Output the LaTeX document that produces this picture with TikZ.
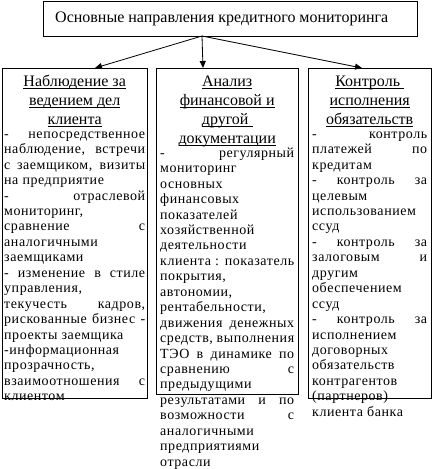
\documentclass[tikz,border=0pt]{standalone}
\usepackage{fontspec}
\setmainfont{Liberation Serif}
\newfontfamily\bodyfam[LetterSpace=4]{Liberation Serif}
\usetikzlibrary{arrows.meta}
\newcommand\Sb{\vrule height 11pt depth 4.45pt width 0pt}
\newcommand\Sh{\vrule height 13pt depth 6pt width 0pt}
\newcommand\Jl[1]{\hbox to\hsize{\Sb #1}}
\newcommand\Ll[1]{\hbox to\hsize{\Sb #1\hfil}}
\newcommand\Ul[1]{\setbox0\hbox{#1}\rlap{\vrule height -1.6pt depth 2.6pt width\wd0}\box0}
\newcommand\Hl[1]{\hbox to\hsize{\hfil\Sh\Ul{#1}\hfil}}
\newcommand\BodyFont{\bodyfam\fontsize{14}{15.45}\selectfont}
\newcommand\HeadFont{\fontsize{16}{19}\selectfont}
\tikzset{
  frame/.style={draw, line width=0.9pt, inner sep=0pt, anchor=north west},
  txt/.style={inner sep=0pt, anchor=north west},
  arr/.style={line width=0.8pt, -{Triangle[length=7pt,width=6pt]}}
}
\begin{document}
\begin{tikzpicture}[x=1pt,y=-1pt]
\useasboundingbox (0,0) rectangle (434,469);
% frames
\node[frame, minimum width=374pt, minimum height=35pt] (top) at (43,1) {};
\node[frame, minimum width=145pt, minimum height=329.5pt] (lbox) at (2,68) {};
\node[frame, minimum width=142pt, minimum height=326pt] (mbox) at (156,68) {};
\node[frame, minimum width=123pt, minimum height=329.5pt] (rbox) at (308,68) {};
% title
\node[inner sep=0pt, anchor=base west, font=\HeadFont] (title) at (55,22) {Основные направления кредитного мониторинга};
% connectors
\coordinate (src) at (202,36);
\coordinate (tl) at (95,68);
\coordinate (tm) at (203,68);
\coordinate (tr) at (362,68);
\draw[arr] (src) -- (tl);
\draw[arr] (src) -- (tm);
\draw[arr] (src) -- (tr);
% headings
\node[txt] (lhead) at (2,73) {\vbox{\hsize=145pt\HeadFont
\Hl{Наблюдение за}\Hl{ведением дел}\Hl{клиента}}};
\node[txt] (mhead) at (156,73) {\vbox{\hsize=142pt\HeadFont
\Hl{Анализ}\Hl{финансовой и}\Hl{другой\ }\Hl{документации}}};
\node[txt] (rhead) at (308,73) {\vbox{\hsize=123pt\HeadFont
\Hl{Контроль\ }\Hl{исполнения}\Hl{обязательств}}};
% bodies
\node[txt] (lbody) at (4,127) {\vbox{\hsize=141pt\BodyFont
\Jl{- непосредственное}
\Jl{наблюдение, встречи}
\Jl{с заемщиком, визиты}
\Ll{на предприятие}
\Jl{- отраслевой}
\Ll{мониторинг,}
\Jl{сравнение с}
\Ll{аналогичными}
\Ll{заемщиками}
\Jl{- изменение в стиле}
\Ll{управления,}
\Jl{текучесть кадров,}
\Jl{рискованные бизнес -}
\Ll{проекты заемщика}
\Ll{-информационная}
\Ll{прозрачность,}
\Jl{взаимоотношения с}
\Ll{клиентом}}};
\node[txt] (mbody) at (160,146) {\vbox{\hsize=134pt\BodyFont
\Jl{- регулярный}
\Ll{мониторинг}
\Ll{основных}
\Ll{финансовых}
\Ll{показателей}
\Ll{хозяйственной}
\Ll{деятельности}
\Jl{клиента : показатель}
\Ll{покрытия,}
\Ll{автономии,}
\Ll{рентабельности,}
\Jl{движения денежных}
\Jl{средств, выполнения}
\Jl{ТЭО в динамике по}
\Jl{сравнению с}
\Ll{предыдущими}
\Jl{результатами и по}
\Jl{возможности с}
\Ll{аналогичными}
\Ll{предприятиями}
\Ll{отрасли}}};
\node[txt] (rbody) at (312,127) {\vbox{\hsize=115pt\BodyFont
\Jl{- контроль}
\Jl{платежей по}
\Ll{кредитам}
\Jl{- контроль за}
\Ll{целевым}
\Ll{использованием}
\Ll{ссуд}
\Jl{- контроль за}
\Jl{залоговым и}
\Ll{другим}
\Ll{обеспечением}
\Ll{ссуд}
\Jl{- контроль за}
\Ll{исполнением}
\Ll{договорных}
\Ll{обязательств}
\Ll{контрагентов}
\Ll{(партнеров)}
\Ll{клиента банка}}};
\end{tikzpicture}
\end{document}
